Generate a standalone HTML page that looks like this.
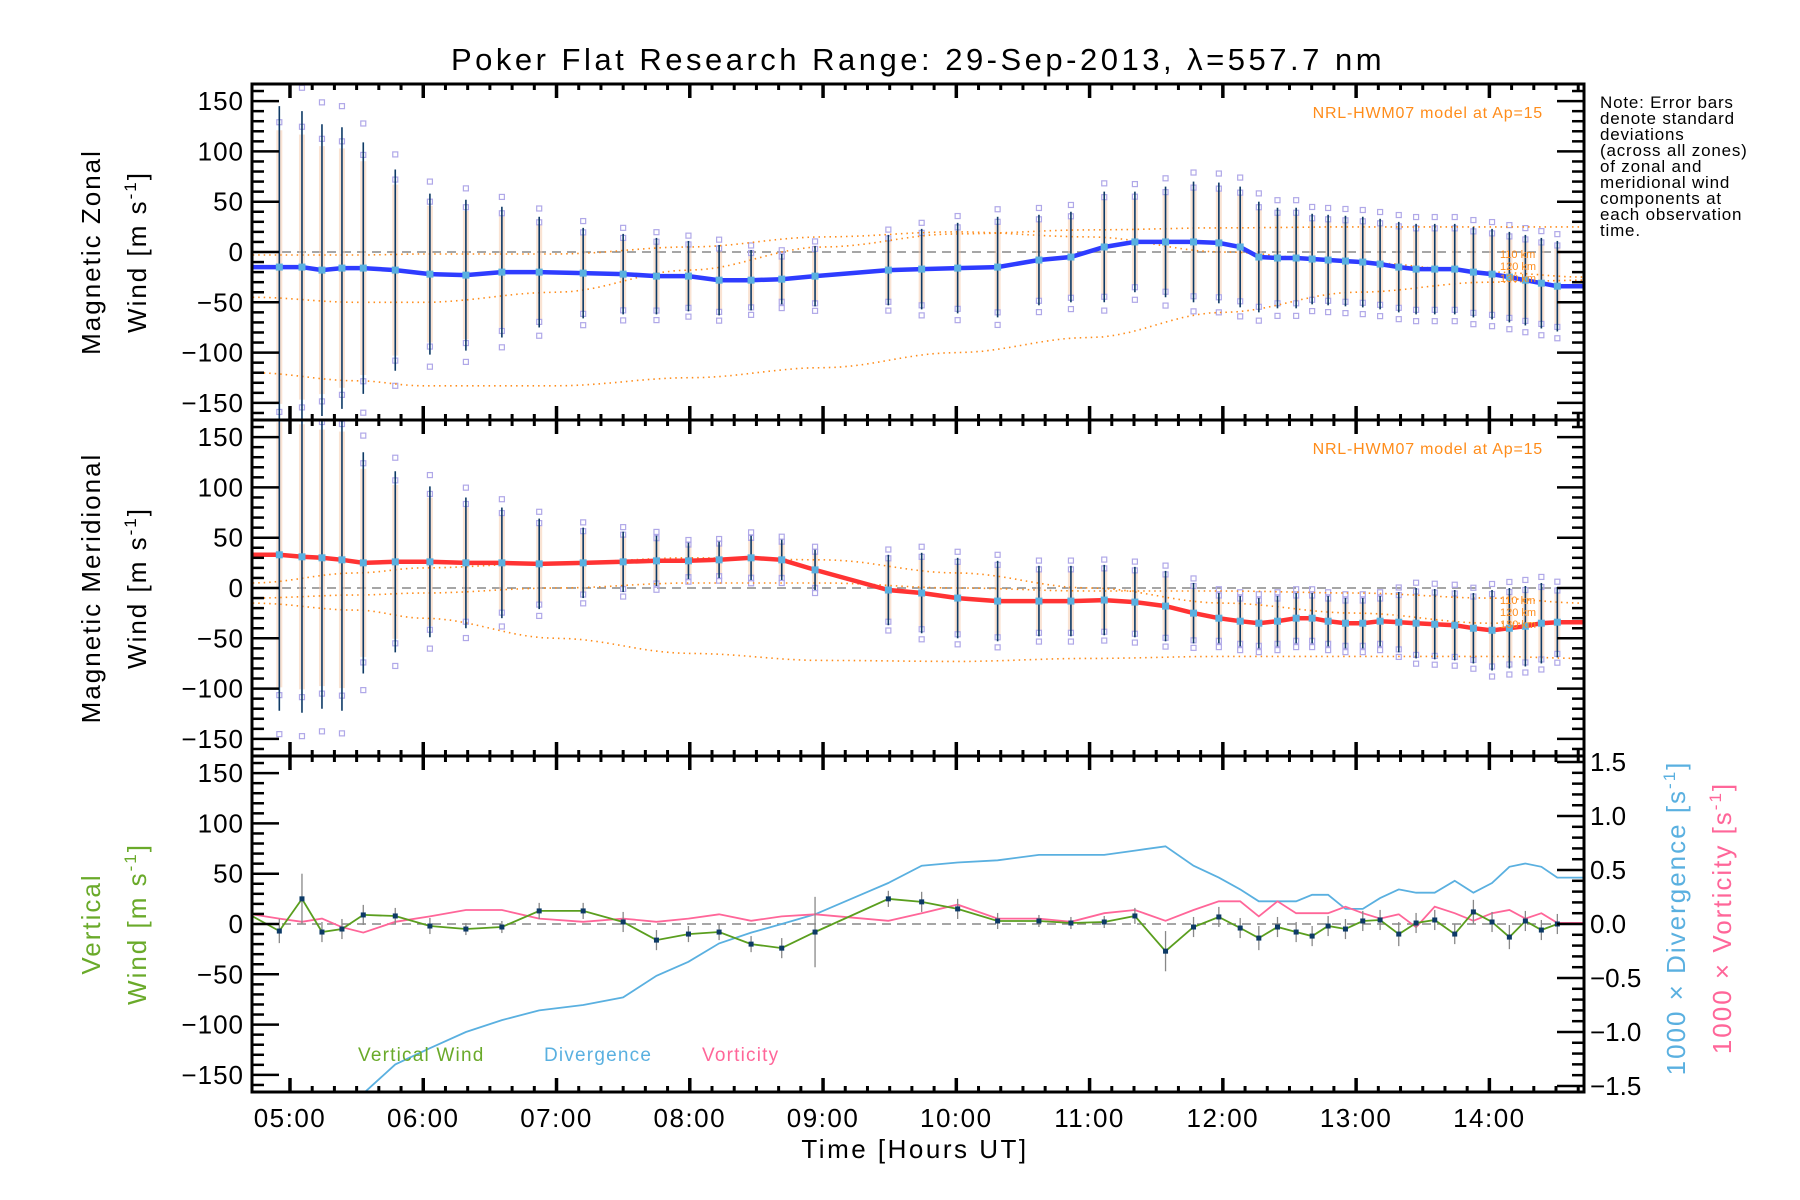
<!DOCTYPE html>
<html><head><meta charset="utf-8"><title>Poker Flat Research Range winds</title>
<style>
html,body{margin:0;padding:0;background:#fff;}
svg{display:block;font-family:"Liberation Sans","DejaVu Sans",sans-serif;}
</style></head>
<body>
<svg id="chart" width="1800" height="1200" viewBox="0 0 1800 1200" xmlns="http://www.w3.org/2000/svg">
<rect x="0" y="0" width="1800" height="1200" fill="#fff"/>
<text x="918" y="70" font-size="31" letter-spacing="3.5" text-anchor="middle" fill="#000">Poker Flat Research Range: 29-Sep-2013, λ=557.7 nm</text>
<g id="plots"></g>
<text x="915" y="1158" font-size="26" letter-spacing="2.5" text-anchor="middle" fill="#000">Time [Hours UT]</text>
<g font-size="26" letter-spacing="2" fill="#000" text-anchor="middle">
<text transform="translate(100,252) rotate(-90)">Magnetic Zonal</text>
<text transform="translate(146,252) rotate(-90)">Wind [m s<tspan dy="-10" font-size="17">-1</tspan><tspan dy="10">]</tspan></text>
</g>
<g font-size="26" letter-spacing="2" fill="#000" text-anchor="middle">
<text transform="translate(100,588) rotate(-90)">Magnetic Meridional</text>
<text transform="translate(146,588) rotate(-90)">Wind [m s<tspan dy="-10" font-size="17">-1</tspan><tspan dy="10">]</tspan></text>
</g>
<g font-size="26" letter-spacing="2" fill="#6aaa2a" text-anchor="middle">
<text transform="translate(100,924) rotate(-90)">Vertical</text>
<text transform="translate(146,924) rotate(-90)">Wind [m s<tspan dy="-10" font-size="17">-1</tspan><tspan dy="10">]</tspan></text>
</g>
<text transform="translate(1685,918) rotate(-90)" font-size="26" letter-spacing="2" fill="#5ab0e0" text-anchor="middle">1000 × Divergence [s<tspan dy="-10" font-size="17">-1</tspan><tspan dy="10">]</tspan></text>
<text transform="translate(1731,918) rotate(-90)" font-size="26" letter-spacing="2" fill="#ff6699" text-anchor="middle">1000 × Vorticity [s<tspan dy="-10" font-size="17">-1</tspan><tspan dy="10">]</tspan></text>
<g font-size="17" letter-spacing="0.8" fill="#000">
<text x="1600" y="108">Note: Error bars</text>
<text x="1600" y="124">denote standard</text>
<text x="1600" y="140">deviations</text>
<text x="1600" y="156">(across all zones)</text>
<text x="1600" y="172">of zonal and</text>
<text x="1600" y="188">meridional wind</text>
<text x="1600" y="204">components at</text>
<text x="1600" y="220">each observation</text>
<text x="1600" y="236">time.</text>
</g>
<text x="1543" y="118" font-size="16" letter-spacing="0.8" fill="#ff8c1a" text-anchor="end">NRL-HWM07 model at Ap=15</text>
<text x="1543" y="454" font-size="16" letter-spacing="0.8" fill="#ff8c1a" text-anchor="end">NRL-HWM07 model at Ap=15</text>
<text x="358" y="1061" font-size="19" letter-spacing="1.2" fill="#6aaa2a">Vertical Wind</text>
<text x="544" y="1061" font-size="19" letter-spacing="1.2" fill="#5ab0e0">Divergence</text>
<text x="702" y="1061" font-size="19" letter-spacing="1.2" fill="#ff6699">Vorticity</text>
</svg>
<script>
// ---- data ----
const times = [4.92,5.09,5.24,5.39,5.55,5.79,6.05,6.32,6.59,6.87,7.20,7.50,7.75,7.99,8.22,8.46,8.69,8.94,9.49,9.74,10.01,10.31,10.62,10.86,11.11,11.34,11.57,11.78,11.97,12.13,12.27,12.41,12.55,12.67,12.79,12.92,13.05,13.18,13.32,13.45,13.59,13.74,13.88,14.02,14.15,14.27,14.39,14.51];
const zonal = [-15,-15,-18,-16,-16,-18,-22,-23,-20,-20,-21,-22,-24,-24,-28,-28,-27,-24,-18,-17,-16,-15,-8,-5,5,10,10,10,9,5,-5,-6,-6,-7,-8,-9,-10,-12,-15,-17,-17,-17,-20,-22,-25,-28,-31,-34];
const zonalErr = [160,155,145,140,125,100,80,75,65,55,45,40,38,35,35,30,25,30,35,40,45,50,45,45,55,50,55,60,60,60,55,50,50,45,45,45,45,45,45,45,45,45,45,45,45,45,45,45];
const merid = [33,31,30,28,25,26,26,25,25,24,25,26,27,27,28,30,28,18,-2,-5,-10,-13,-13,-13,-12,-14,-18,-25,-30,-33,-35,-33,-30,-30,-33,-35,-35,-33,-34,-35,-36,-37,-40,-42,-40,-38,-35,-34];
const meridErr = [155,155,150,150,110,90,75,65,55,45,35,30,25,18,18,22,20,20,35,40,40,40,35,35,35,35,35,30,25,25,25,25,25,25,25,25,25,25,30,35,35,35,35,40,40,40,40,35];
const vert = [-7,25,-8,-5,9,8,-2,-5,-3,13,13,2,-16,-10,-8,-20,-24,-8,25,22,15,3,3,1,2,8,-27,-3,7,-4,-14,-3,-8,-12,-2,-5,3,4,-10,1,4,-10,12,2,-13,3,-6,0];
const vertErr = [12,25,10,10,10,8,8,6,6,8,8,10,10,8,8,8,10,35,8,10,10,8,6,6,6,8,20,10,10,10,12,10,10,10,10,10,10,10,12,10,10,10,12,10,12,10,10,10];
const divergence = [null,null,null,-1.75,-1.57,-1.30,-1.15,-1.0,-0.89,-0.80,-0.75,-0.68,-0.48,-0.35,-0.18,-0.08,0.0,0.09,0.38,0.54,0.57,0.59,0.64,0.64,0.64,0.68,0.72,0.54,0.43,0.32,0.21,0.21,0.21,0.27,0.27,0.14,0.14,0.24,0.32,0.29,0.29,0.40,0.29,0.38,0.53,0.56,0.53,0.43];
const vorticity = [0.05,0.02,0.05,-0.03,-0.08,0.02,0.07,0.13,0.13,0.05,0.02,0.05,0.02,0.05,0.09,0.03,0.07,0.09,0.03,0.10,0.18,0.05,0.05,0.02,0.10,0.13,0.03,0.13,0.21,0.21,0.07,0.21,0.10,0.10,0.10,0.16,0.10,0.05,0.09,-0.03,0.16,0.10,0.03,0.10,0.13,0.05,0.10,0.01];
const modelHours = [4.72,5.5,6,7,8,9,10,11,12,13,14,14.72];
const hwmZonal110 = [-45,-50,-50,-40,-18,5,18,22,24,25,25,25];
const hwmZonal120 = [-3,-3,-2,-2,5,15,20,15,0,-10,-20,-25];
const hwmZonal130 = [-120,-128,-133,-133,-125,-115,-100,-85,-60,-40,-30,-28];
const hwmMerid110 = [5,15,20,25,30,28,15,0,-15,-25,-35,-35];
const hwmMerid120 = [-10,-7,-5,0,5,5,0,-3,-3,-5,-10,-15];
const hwmMerid130 = [-15,-22,-30,-50,-65,-72,-73,-70,-68,-68,-68,-70];
const leftTicks = [-150,-100,-50,0,50,100,150];
const rightTicks = [-1.5,-1.0,-0.5,0.0,0.5,1.0,1.5];
const hourTicks = [5,6,7,8,9,10,11,12,13,14];

// ---- axes ----
const X0=252, X1=1584, H0=4.715, H1=14.71;
const xS = h => X0 + (h-H0)/(H1-H0)*(X1-X0);
const panels = [{top:84},{top:420},{top:756}];
const PH=336, YR=167;
const yS = (p,v) => panels[p].top + PH/2 - v*(PH/2)/YR;
const RR=1.556;
const yR = v => panels[2].top + PH/2 - v*(PH/2)/RR;

const NS='http://www.w3.org/2000/svg';
const root=document.getElementById('plots');
function mk(tag,attrs,parent){const e=document.createElementNS(NS,tag);for(const k in attrs)e.setAttribute(k,attrs[k]);(parent||root).appendChild(e);return e;}
function poly(pts){return pts.map(p=>p[0].toFixed(1)+','+p[1].toFixed(1)).join(' ');}

for(let p=0;p<3;p++){
  const g=mk('g',{});
  
  
  const cp=mk('clipPath',{id:'clip'+p},g);
  mk('rect',{x:X0,y:panels[p].top,width:X1-X0,height:PH},cp);
  const data=mk('g',{'clip-path':'url(#clip'+p+')'},g);
  const z=mk('line',{x1:X0,x2:X1,y1:yS(p,0),y2:yS(p,0),stroke:'#888','stroke-width':1.5,'stroke-dasharray':'9,6'},data);
  
  
  if(p<2){
    const vals = p===0?zonal:merid, errs=p===0?zonalErr:meridErr;
    const models = p===0?[hwmZonal110,hwmZonal120,hwmZonal130]:[hwmMerid110,hwmMerid120,hwmMerid130];
    times.forEach((t,i)=>{
      const r=mk('rect',{x:xS(t)-3,y:yS(p,vals[i]+errs[i]*0.85),width:6,height:errs[i]*1.7*(PH/2)/YR,fill:'#f6c8a8',opacity:0.5},data);
      
      
      [1.15,-1.15,0.9,-0.9].forEach((f,k)=>{
        const s=mk('rect',{x:xS(t)-2.5,y:yS(p,vals[i]+errs[i]*f)-2.5,width:5,height:5,fill:'none',stroke:'#b0a8e8','stroke-width':1.2},data);
        
        
      });
    });
    models.forEach((m,k)=>{
      const pts=[];
      for(let j=0;j<modelHours.length-1;j++){
        for(let s=0;s<10;s++){const f=s/10;const h=modelHours[j]+(modelHours[j+1]-modelHours[j])*f;
          const w=(1-Math.cos(Math.PI*f))/2;pts.push([xS(h),yS(p,m[j]*(1-w)+m[j+1]*w)]);}
      }
      pts.push([xS(modelHours[modelHours.length-1]),yS(p,m[m.length-1])]);
      const l=mk('polyline',{points:poly(pts),fill:'none',stroke:'#ff8c1a','stroke-width':1.6,'stroke-dasharray':'1.5,4'},data);
      
      
    });
    ['110 km','120 km','130 km'].forEach((lab,k)=>{
      const tx=mk('text',{x:1500,y:yS(p,p===0?(-2-12*k):(-12-12*k))+4,'font-size':11,fill:'#ff8c1a'},g);
      tx.textContent=lab;
      
      
    });
    times.forEach((t,i)=>{
      const e=mk('line',{x1:xS(t),x2:xS(t),y1:yS(p,vals[i]-errs[i]),y2:yS(p,vals[i]+errs[i]),stroke:'#0d3a66','stroke-width':1.6},data);
      
      
    });
    const pts=[[X0,yS(p,vals[0])]].concat(times.map((t,i)=>[xS(t),yS(p,vals[i])]));
    pts.push([X1,yS(p,vals[vals.length-1])]);
    const ln=mk('polyline',{points:poly(pts),fill:'none',stroke:p===0?'#2e3cff':'#ff3333','stroke-width':4.5},data);
    
    
    times.forEach((t,i)=>{
      const d=mk('rect',{x:xS(t)-3.5,y:yS(p,vals[i])-3.5,width:7,height:7,fill:'#5ab0e0'},data);
      
      
    });
  } else {
    const dp=[];times.forEach((t,i)=>{if(divergence[i]!==null)dp.push([xS(t),yR(divergence[i])]);});
    dp.push([X1,yR(divergence[divergence.length-1])]);
    const dl=mk('polyline',{points:poly(dp),fill:'none',stroke:'#5ab0e0','stroke-width':1.8},data);
    
    
    const vp=[[X0,yR(0.09)]].concat(times.map((t,i)=>[xS(t),yR(vorticity[i])]));vp.push([X1,yR(vorticity[vorticity.length-1])]);
    const vl=mk('polyline',{points:poly(vp),fill:'none',stroke:'#ff6699','stroke-width':1.8},data);
    
    
    times.forEach((t,i)=>{
      const e=mk('line',{x1:xS(t),x2:xS(t),y1:yS(2,vert[i]-vertErr[i]),y2:yS(2,vert[i]+vertErr[i]),stroke:'#888','stroke-width':1.3},data);
      
      
    });
    const wp=[[X0,yS(2,8)]].concat(times.map((t,i)=>[xS(t),yS(2,vert[i])]));wp.push([X1,yS(2,vert[vert.length-1])]);
    const wl=mk('polyline',{points:poly(wp),fill:'none',stroke:'#5a9e1e','stroke-width':1.8},data);
    
    
    times.forEach((t,i)=>{
      const d=mk('rect',{x:xS(t)-2.5,y:yS(2,vert[i])-2.5,width:5,height:5,fill:'#0d3a66'},data);
      
      
    });
  }
  const top=panels[p].top;
  const fr=mk('rect',{x:X0,y:top,width:X1-X0,height:PH,fill:'none',stroke:'#000','stroke-width':3},g);
  
  
  for(let v=-160;v<=160;v+=10){
    const maj=v%50===0;const y=yS(p,v);
    mk('line',{x1:X0,x2:X0+(maj?27:12),y1:y,y2:y,stroke:'#000','stroke-width':2.5},g);
    if(p<2)mk('line',{x1:X1,x2:X1-(maj?27:12),y1:y,y2:y,stroke:'#000','stroke-width':2.5},g);
  }
  leftTicks.forEach(v=>{
    const t=mk('text',{x:X0-8,y:yS(p,v)+9,'font-size':26,'letter-spacing':1,'text-anchor':'end',fill:'#000'},g);
    t.textContent=(v<0?'−':'')+Math.abs(v);
    
    
  });
  if(p===2){
    for(let v=-15;v<=15;v++){const y=yR(v/10);const maj=v%5===0;
      mk('line',{x1:X1,x2:X1-(maj?27:12),y1:y,y2:y,stroke:'#000','stroke-width':2.5},g);}
    rightTicks.forEach(v=>{
      const t=mk('text',{x:X1+6,y:yR(v)+9,'font-size':26,fill:'#000'},g);
      t.textContent=(v<0?'−':'')+Math.abs(v).toFixed(1);
      
      
    });
  }
  for(let m=5*6;m<=14.7*6;m++){
    const h=m/6, x=xS(h), maj=m%6===0;
    mk('line',{x1:x,x2:x,y1:top,y2:top+(maj?14:6),stroke:'#000','stroke-width':maj?3.5:3},g);
    mk('line',{x1:x,x2:x,y1:top+PH,y2:top+PH-(maj?14:6),stroke:'#000','stroke-width':maj?3.5:3},g);
  }
}
hourTicks.forEach(h=>{
  const t=mk('text',{x:xS(h),y:1127,'font-size':26,'letter-spacing':1.5,'text-anchor':'middle',fill:'#000'});
  t.textContent=(h<10?'0':'')+h+':00';
  
  
});
</script>
</body></html>
